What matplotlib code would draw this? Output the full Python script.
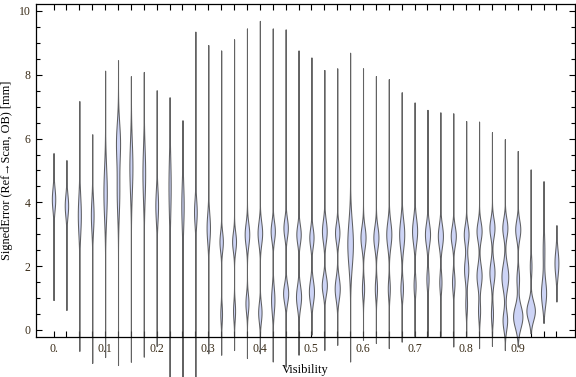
import numpy as np
import matplotlib
matplotlib.use('Agg')
import matplotlib.pyplot as plt
from matplotlib.ticker import MultipleLocator, FixedLocator, FuncFormatter

# visibility bins (one violin per bin)
visibility = [i * 0.025 for i in range(40)]

# lowest / highest signed error in each bin [mm]
err_min = [0.94, 0.63, -0.66, -1.03, -0.85, -1.10, -1.00, -0.84, -0.50, -1.60,
           -1.60, -1.60, -0.73, -0.78, -0.63, -0.88, -0.73, -0.99, -1.15, -0.78,
           -0.15, -0.63, -0.47, -0.99, -0.31, -0.41, -0.57, -0.37, -0.20, -0.20,
           -0.20, -0.52, -0.20, -0.57, -0.50, -0.63, -0.52, -0.10, 0.22, 0.89]
err_max = [5.55, 5.33, 7.18, 6.14, 8.13, 8.46, 7.96, 8.09, 7.52, 7.30,
           6.58, 9.35, 8.93, 8.76, 9.11, 9.45, 9.69, 9.45, 9.42, 8.76,
           8.54, 8.15, 8.20, 8.69, 8.20, 7.96, 7.86, 7.45, 7.13, 6.90,
           6.82, 6.79, 6.55, 6.53, 6.20, 5.98, 5.61, 5.03, 4.67, 3.29]

# density modes per bin: (centre [mm], spread [mm], relative density)
modes = [
    [(4.1, 0.35, 2.0)],
    [(3.9, 0.35, 2.0)],
    [(3.6, 0.6, 1.8)],
    [(3.6, 0.5, 1.6)],
    [(4.3, 0.8, 2.0)],
    [(5.9, 0.6, 2.3), (4.3, 0.7, 1.5)],
    [(5.1, 0.8, 1.8)],
    [(4.9, 0.8, 1.6)],
    [(3.9, 0.5, 1.6)],
    [(4.5, 0.9, 1.3)],
    [(3.9, 0.7, 1.4)],
    [(3.7, 0.4, 1.6)],
    [(3.2, 0.45, 2.0)],
    [(2.77, 0.3, 2.0), (0.5, 0.3, 1.0)],
    [(2.77, 0.3, 2.3), (0.6, 0.3, 1.2)],
    [(3.0, 0.35, 2.7), (0.84, 0.3, 1.8)],
    [(3.04, 0.35, 2.7), (0.55, 0.3, 2.0)],
    [(3.1, 0.3, 2.5), (0.94, 0.4, 2.0)],
    [(3.2, 0.3, 2.6), (1.15, 0.3, 3.0)],
    [(3.0, 0.3, 2.6), (1.04, 0.35, 3.0)],
    [(2.9, 0.3, 2.5), (1.2, 0.35, 3.0)],
    [(3.1, 0.35, 2.8), (1.4, 0.3, 3.0)],
    [(3.05, 0.3, 2.6), (1.3, 0.35, 3.0)],
    [(2.7, 0.7, 3.3)],
    [(2.9, 0.35, 3.0), (1.3, 0.3, 1.3)],
    [(2.9, 0.35, 3.0), (1.3, 0.3, 1.3)],
    [(3.0, 0.4, 3.0), (1.3, 0.3, 1.2)],
    [(3.0, 0.45, 3.0), (1.3, 0.3, 1.5)],
    [(3.1, 0.4, 3.0), (1.4, 0.3, 1.2)],
    [(3.0, 0.35, 3.0), (1.6, 0.3, 1.3)],
    [(2.95, 0.35, 3.0), (1.5, 0.3, 1.3)],
    [(2.95, 0.3, 3.0), (1.5, 0.3, 1.5)],
    [(3.0, 0.3, 2.8), (1.9, 0.35, 2.5), (0.8, 0.3, 1.0)],
    [(3.1, 0.3, 3.0), (1.7, 0.35, 3.0), (0.6, 0.3, 1.2)],
    [(3.2, 0.3, 3.0), (1.8, 0.35, 3.0), (0.5, 0.3, 1.2)],
    [(3.2, 0.3, 3.0), (1.67, 0.4, 4.0), (0.3, 0.3, 2.7)],
    [(3.15, 0.3, 3.0), (1.6, 0.3, 1.5), (0.42, 0.35, 5.5)],
    [(2.0, 0.3, 1.0), (0.6, 0.3, 5.0)],
    [(1.15, 0.4, 3.0), (2.5, 0.5, 1.0)],
    [(2.1, 0.4, 2.3)],
]

serif = ['Liberation Serif', 'DejaVu Serif']
plt.rcParams['font.family'] = serif
plt.rcParams['font.size'] = 8.5

fig = plt.figure(figsize=(5.76, 3.77), dpi=100)
ax = fig.add_axes([36 / 576, 1 - 337 / 377, 539 / 576, 332.7 / 377])

# one density unit -> half width in x data units
scale = 0.85 / 516

for pos, lo, hi, mm in zip(visibility, err_min, err_max, modes):
    y = np.linspace(lo, hi, 400)
    w = np.zeros_like(y)
    for c, s, h in mm:
        w += h * np.exp(-0.5 * ((y - c) / s) ** 2)
    w *= scale
    ax.fill_betweenx(y, pos - w, pos + w, facecolor='#cdd4f6',
                     edgecolor=(0.28, 0.28, 0.28, 0.85), linewidth=0.75,
                     clip_on=False, zorder=2)

ax.set_xlim(-0.034, 1.011)
ax.set_ylim(-0.22, 10.21)

ax.xaxis.set_major_locator(FixedLocator([i / 10 for i in range(10)]))
ax.xaxis.set_minor_locator(FixedLocator(visibility))
ax.xaxis.set_major_formatter(FuncFormatter(lambda v, p: '0.' if v == 0 else '%.1f' % v))
ax.yaxis.set_major_locator(MultipleLocator(2))
ax.yaxis.set_minor_locator(MultipleLocator(0.5))
ax.yaxis.set_major_formatter(FuncFormatter(lambda v, p: '%d' % round(v)))

ax.tick_params(which='both', direction='in', top=True, right=True,
               colors='black', labelcolor='#3a2c18', width=0.8)
ax.tick_params(which='major', length=4.5, pad=4)
ax.tick_params(which='minor', length=3)
ax.tick_params(axis='x', which='minor', length=4)

for sp in ax.spines.values():
    sp.set_linewidth(0.9)

ax.set_xlabel('Visibility', fontsize=9, labelpad=7)
ax.set_ylabel('SignedError (Ref\u2192Scan, OB) [mm]', fontsize=8.8, labelpad=4)

plt.savefig('out.png', dpi=100)
